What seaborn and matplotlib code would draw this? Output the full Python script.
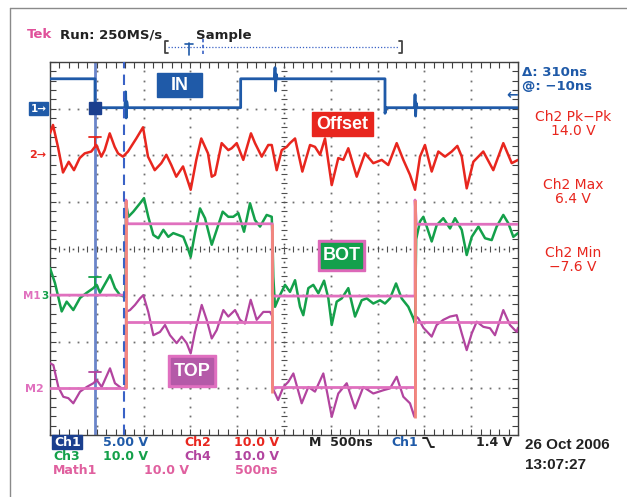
import numpy as np
import pandas as pd
import matplotlib
matplotlib.use("Agg")
import matplotlib.pyplot as plt
import seaborn as sns
from matplotlib.patches import Rectangle

sns.set_theme(style="white")
plt.rcParams['font.family'] = ['DejaVu Sans']

# ---------------- data (time in ns, amplitude in screen divisions) ----------------
ch1 = [(0, 3.64), (481, 3.64), (481, 2.92), (492, 3.02), (800, 3.02), (808, 3.36), (814, 2.80),
       (820, 3.15), (830, 3.02), (2037, 3.02), (2037, 3.64), (2398, 3.64), (2404, 3.88),
       (2410, 3.38), (2416, 3.74), (2426, 3.64), (3579, 3.64), (3579, 2.90), (3592, 3.02),
       (3894, 3.02), (3900, 3.30), (3906, 2.84), (3912, 3.12), (3922, 3.02), (5000, 3.02)]

ch2 = [(0, 2.47), (32, 2.65), (85, 2.18), (139, 1.63), (200, 1.86), (256, 1.68), (317, 1.94),
       (371, 2.04), (441, 2.08), (495, 2.22), (548, 1.97), (584, 2.11), (638, 2.47), (691, 2.18),
       (727, 2.04), (780, 1.97), (833, 2.08), (922, 2.36), (994, 2.60), (1047, 1.97), (1119, 1.68),
       (1189, 1.83), (1243, 2.01), (1296, 1.79), (1349, 1.54), (1421, 1.76), (1503, 1.26),
       (1563, 1.90), (1616, 2.36), (1688, 2.04), (1728, 1.54), (1763, 1.58), (1834, 2.26),
       (1905, 2.11), (1941, 2.15), (1995, 2.26), (2065, 1.90), (2147, 2.47), (2190, 2.26),
       (2262, 1.97), (2332, 2.22), (2369, 2.22), (2422, 1.68), (2476, 2.11), (2529, 2.18),
       (2564, 2.26), (2618, 2.36), (2696, 1.65), (2778, 2.22), (2831, 2.18), (2885, 2.01),
       (2938, 2.36), (3010, 1.36), (3080, 1.94), (3134, 1.90), (3187, 2.15), (3277, 1.54),
       (3365, 2.04), (3454, 1.83), (3544, 1.90), (3614, 1.79), (3704, 2.26), (3775, 1.90),
       (3846, 1.58), (3900, 1.26), (3953, 1.97), (4006, 2.22), (4078, 1.65), (4149, 2.08),
       (4220, 1.97), (4292, 2.08), (4352, 2.20), (4399, 1.97), (4452, 1.29), (4523, 1.86),
       (4629, 2.08), (4736, 1.68), (4843, 2.26), (4933, 1.83), (5000, 1.90)]

ch3 = [(0, -0.42), (53, -0.74), (125, -1.35), (178, -1.14), (249, -1.32), (321, -1.06),
       (392, -0.95), (463, -0.85), (499, -0.78), (534, -0.95), (641, -0.57), (694, -0.85),
       (748, -1.00), (805, -1.04), (812, 0.98), (837, 0.68), (890, 0.79), (962, 0.97),
       (1004, 1.08), (1050, 0.68), (1104, 0.29), (1157, 0.22), (1211, 0.40), (1264, 0.25),
       (1317, 0.33), (1371, 0.29), (1424, 0.25), (1478, -0.03), (1503, -0.18), (1549, 0.33),
       (1603, 0.86), (1656, 0.65), (1728, 0.08), (1781, 0.40), (1845, 0.79), (1905, 0.68),
       (1958, 0.68), (2012, 0.76), (2073, 0.36), (2137, 0.97), (2190, 0.61), (2244, 0.47),
       (2315, 0.72), (2369, 0.68), (2377, 0.20), (2386, -0.61), (2404, -1.25), (2457, -1.00),
       (2511, -0.78), (2564, -0.93), (2618, -0.68), (2671, -1.25), (2706, -1.43), (2760, -0.85),
       (2813, -0.78), (2867, -0.96), (2928, -0.69), (2974, -1.07), (3010, -1.64), (3063, -1.14),
       (3117, -1.07), (3187, -0.85), (3259, -1.46), (3330, -1.11), (3384, -1.07), (3454, -1.18),
       (3526, -1.11), (3579, -1.18), (3633, -1.07), (3697, -0.75), (3757, -1.07), (3828, -1.25),
       (3882, -1.50), (3900, -1.60), (3912, 0.20), (3953, 0.58), (3989, 0.68), (4025, 0.47),
       (4078, 0.15), (4131, 0.50), (4202, 0.65), (4274, 0.43), (4327, 0.65), (4399, 0.40),
       (4452, -0.14), (4506, 0.25), (4577, 0.47), (4648, 0.22), (4719, 0.18), (4772, 0.47),
       (4843, 0.72), (4897, 0.54), (4950, 0.25), (5000, 0.33)]

ch4 = [(0, -2.46), (36, -2.50), (89, -2.97), (142, -3.18), (196, -3.21), (249, -3.32),
       (321, -3.07), (392, -2.97), (463, -2.89), (499, -2.82), (552, -2.97), (641, -2.57),
       (694, -2.89), (766, -3.00), (806, -3.00), (812, -1.36), (855, -1.32), (908, -1.21),
       (962, -1.07), (997, -1.00), (1050, -1.36), (1104, -1.86), (1175, -1.79), (1229, -1.64),
       (1282, -1.86), (1353, -2.03), (1407, -1.89), (1460, -2.03), (1503, -2.25), (1549, -1.79),
       (1621, -1.21), (1674, -1.53), (1728, -1.93), (1781, -1.75), (1852, -1.32), (1905, -1.46),
       (1977, -1.32), (2030, -1.53), (2083, -1.61), (2144, -1.10), (2208, -1.53), (2279, -1.36),
       (2351, -1.36), (2375, -1.45), (2381, -3.00), (2437, -3.25), (2493, -2.97), (2546, -2.86),
       (2600, -2.68), (2689, -3.32), (2760, -2.97), (2831, -3.07), (2920, -2.68), (2963, -3.11),
       (3010, -3.61), (3080, -3.11), (3170, -2.89), (3259, -3.43), (3347, -2.97), (3454, -3.11),
       (3561, -3.04), (3633, -3.00), (3704, -2.75), (3775, -3.18), (3846, -3.32), (3893, -3.61),
       (3900, -3.50), (3906, -1.45), (3935, -1.50), (3989, -1.70), (4078, -1.89), (4131, -1.64),
       (4202, -1.53), (4274, -1.46), (4345, -1.43), (4399, -1.82), (4452, -2.18), (4506, -1.82),
       (4559, -1.57), (4630, -1.68), (4701, -1.71), (4754, -1.86), (4843, -1.32), (4914, -1.64),
       (4986, -1.79), (5000, -1.70)]

bot_ref = [(0, -1.00), (812, -1.00), (812, 1.04), (826, 0.53), (2375, 0.53), (2375, -1.02),
           (3900, -1.02), (3900, 1.04), (3914, 0.52), (5000, 0.52)]
top_ref = [(0, -3.00), (812, -3.00), (812, -1.58), (2375, -1.58), (2375, -2.98),
           (3900, -2.98), (3900, -1.57), (5000, -1.57)]

edge_t = [812, 2375, 3900]
edge_hi = [1.04, 0.53, 1.04]
edge_lo = [-3.00, -3.10, -3.64]

cursor_t = [481, 791]
ch1_ground = 3.02
trig_level = 1.4 / 5.0   # 1.4 V at 5 V/div

BLUE = '#1f5aa8'
RED = '#e8261e'
GREEN = '#14a04a'
MAG = '#b2449f'
PINK = '#e070be'
SALMON = '#f3877c'

fig = plt.figure(figsize=(6.27, 4.97), dpi=100)
fig.patch.set_facecolor('white')
ax = fig.add_axes([50 / 627, 1 - 435 / 497, 468 / 627, 373 / 497])
ax.set_xlim(0, 5000)
ax.set_ylim(-4, 4)
ax.set_facecolor('white')

# graticule
ys = np.arange(-4, 4.001, 0.2)
xs = np.arange(0, 5001, 100)
for gx in range(500, 5000, 500):
    if gx == 2500:
        continue
    ax.plot([gx] * len(ys), ys, ls='none', marker='s', ms=1.3, mew=0, color='#707070', zorder=1)
for gy in range(-3, 4):
    if gy == 0:
        continue
    ax.plot(xs, [gy] * len(xs), ls='none', marker='s', ms=1.3, mew=0, color='#707070', zorder=1)
# centre cross with minor ticks
ax.plot(xs, [0] * len(xs), ls='none', marker='|', ms=4, mew=0.8, color='#505050', zorder=1)
ax.plot(xs[:-1] + 50, [0] * (len(xs) - 1), ls='none', marker='s', ms=1.2, mew=0, color='#505050', zorder=1)
ax.plot([2500] * len(ys), ys, ls='none', marker='_', ms=4, mew=0.8, color='#505050', zorder=1)
ax.plot([2500] * (len(ys) - 1), ys[:-1] + 0.1, ls='none', marker='s', ms=1.2, mew=0, color='#505050', zorder=1)

ax.set_xticks(xs)
ax.set_yticks(ys)
ax.tick_params(axis='both', which='both', direction='in', length=4, width=0.8, color='#404040',
               top=True, right=True, bottom=True, left=True,
               labelbottom=False, labelleft=False)
for s in ax.spines.values():
    s.set_color('#404040')
    s.set_linewidth(1.0)

# cursors
ax.axvline(cursor_t[0], color='#5b78c4', lw=2.0, alpha=0.9, zorder=2)
ax.axvline(cursor_t[1], color='#3a62c6', lw=1.5, ls=(0, (5, 3)), zorder=6)

def draw(data, color, lw, z, alpha=1.0):
    df = pd.DataFrame(data, columns=['t', 'v'])
    sns.lineplot(data=df, x='t', y='v', sort=False, estimator=None, color=color,
                 lw=lw, alpha=alpha, ax=ax, zorder=z)

draw(ch1, BLUE, 2.0, 4)
draw(ch2, RED, 1.8, 4)
draw(ch3, GREEN, 1.8, 3)
draw(ch4, MAG, 1.6, 4)
draw(bot_ref, PINK, 2.0, 5)
draw(top_ref, PINK, 2.0, 5)
ax.vlines(edge_t, edge_lo, edge_hi, color=SALMON, lw=2.0, zorder=5)
ax.set_xlabel('')
ax.set_ylabel('')

# trigger marker on Ch1
ax.plot(cursor_t[0], ch1_ground, marker='s', ms=8, color='#1b3f8e', zorder=7)
ax.text(5000, ch1_ground + trig_level, '\u2190', color=BLUE, fontsize=10, fontweight='bold',
        ha='right', va='center', zorder=7)

# cursor crossing marks
for data, col in [(ch2, RED), (ch3, GREEN), (ch4, MAG)]:
    arr = np.array(data)
    yv = np.interp(cursor_t[0], arr[:, 0], arr[:, 1])
    ax.plot([cursor_t[0] - 60, cursor_t[0] + 60], [yv + 0.2, yv + 0.2], color=col, lw=1.3, zorder=7)
    ax.plot([cursor_t[0], cursor_t[0]], [yv, yv + 0.2], color=col, lw=1.3, zorder=7)

# ---------------- decoration layer in pixel coordinates ----------------
deco = fig.add_axes([0, 0, 1, 1])
deco.set_xlim(0, 627)
deco.set_ylim(497, 0)
deco.axis('off')

deco.plot([10, 10], [8, 497], color='#8a8a8a', lw=1)
deco.plot([10, 627], [8, 8], color='#8a8a8a', lw=1)

B = dict(fontsize=9.5, fontweight='bold', va='center', ha='left')
deco.text(27, 35, 'Tek', color='#e0509a', **B)
deco.text(60, 35, 'Run: 250MS/s', color='#222222', **B)
deco.text(196, 35, 'Sample', color='#222222', **B)

# record bracket
deco.plot([168, 165, 165, 168], [41, 41, 53, 53], color='#444444', lw=1.3)
deco.plot([399, 402, 402, 399], [41, 41, 53, 53], color='#444444', lw=1.3)
deco.plot([168, 399], [47, 47], color='#3a62c6', lw=0.9, ls=(0, (1, 1.5)))
deco.plot([189, 189], [43, 55], color=BLUE, lw=1.2)
deco.plot([185, 193], [44, 44], color=BLUE, lw=1.2)
deco.plot([203, 203], [39, 56], color='#3a62c6', lw=1.2, ls=(0, (2, 1.5)))

# right side readouts
deco.text(522, 73, '\u0394: 310ns', color=BLUE, **B)
deco.text(522, 87, '@: \u221210ns', color=BLUE, **B)
R = dict(fontsize=10, color=RED, ha='center', va='center')
deco.text(573, 117, 'Ch2 Pk\u2212Pk', **R)
deco.text(573, 131, '14.0 V', **R)
deco.text(573, 185, 'Ch2 Max', **R)
deco.text(573, 199, '6.4 V', **R)
deco.text(573, 253, 'Ch2 Min', **R)
deco.text(573, 267, '\u22127.6 V', **R)

# channel ground markers
deco.add_patch(Rectangle((29, 102), 19, 13, color=BLUE))
deco.text(38.5, 108.5, '1\u2192', color='white', fontsize=7.5, fontweight='bold', ha='center', va='center')
deco.text(29, 155, '2\u2192', color=RED, fontsize=8, fontweight='bold', ha='left', va='center')
deco.text(23, 296, 'M1', color=PINK, fontsize=7.5, fontweight='bold', ha='left', va='center')
deco.text(41, 296, '3', color=GREEN, fontsize=7.5, fontweight='bold', ha='left', va='center')
deco.text(25, 389, 'M2', color=PINK, fontsize=8, fontweight='bold', ha='left', va='center')

# labels
def label(x0, y0, w, h, text, fc, ec=None):
    if ec is not None:
        deco.add_patch(Rectangle((x0, y0), w, h, color=ec, zorder=8))
        deco.add_patch(Rectangle((x0 + 3, y0 + 3), w - 6, h - 6, color=fc, zorder=9))
    else:
        deco.add_patch(Rectangle((x0, y0), w, h, color=fc, zorder=8))
    deco.text(x0 + w / 2, y0 + h / 2 + 0.5, text, color='white', fontsize=13, fontweight='bold',
              family='Liberation Sans', ha='center', va='center', zorder=10)

label(157, 73, 45, 24, 'IN', '#1f5aa8')
label(312, 112, 61, 24, 'Offset', '#e8261e')
label(318, 240, 47, 31, 'BOT', '#13a04c', '#dc68b8')
label(168, 355, 48, 32, 'TOP', '#b45aa8', '#e070c0')

# bottom status rows
deco.add_patch(Rectangle((52, 435), 30, 14, color='#1b3f8e'))
S = dict(fontsize=9, fontweight='bold', va='center', ha='left')
deco.text(54, 442, 'Ch1', color='white', **S)
deco.text(103, 442, '5.00 V', color=BLUE, **S)
deco.text(184, 442, 'Ch2', color=RED, **S)
deco.text(234, 442, '10.0 V', color=RED, **S)
deco.text(309, 442, 'M  500ns', color='#222222', **S)
deco.text(391, 442, 'Ch1', color=BLUE, **S)
deco.plot([423, 427, 431, 434], [438, 438, 447, 447], color='#222222', lw=1.4)
deco.text(512, 442, '1.4 V', color='#222222', fontsize=9, fontweight='bold', va='center', ha='right')
deco.text(53, 456, 'Ch3', color=GREEN, **S)
deco.text(103, 456, '10.0 V', color=GREEN, **S)
deco.text(184, 456, 'Ch4', color='#b2449f', **S)
deco.text(234, 456, '10.0 V', color='#b2449f', **S)
deco.text(53, 470, 'Math1', color='#e0609f', **S)
deco.text(144, 470, '10.0 V', color='#e0609f', **S)
deco.text(235, 470, '500ns', color='#e0609f', **S)
deco.text(525, 445, '26 Oct 2006', color='#222222', fontsize=11, fontweight='bold',
          family='Liberation Sans', va='center', ha='left')
deco.text(525, 465, '13:07:27', color='#222222', fontsize=11, fontweight='bold',
          family='Liberation Sans', va='center', ha='left')

fig.savefig('out.png', dpi=100)
